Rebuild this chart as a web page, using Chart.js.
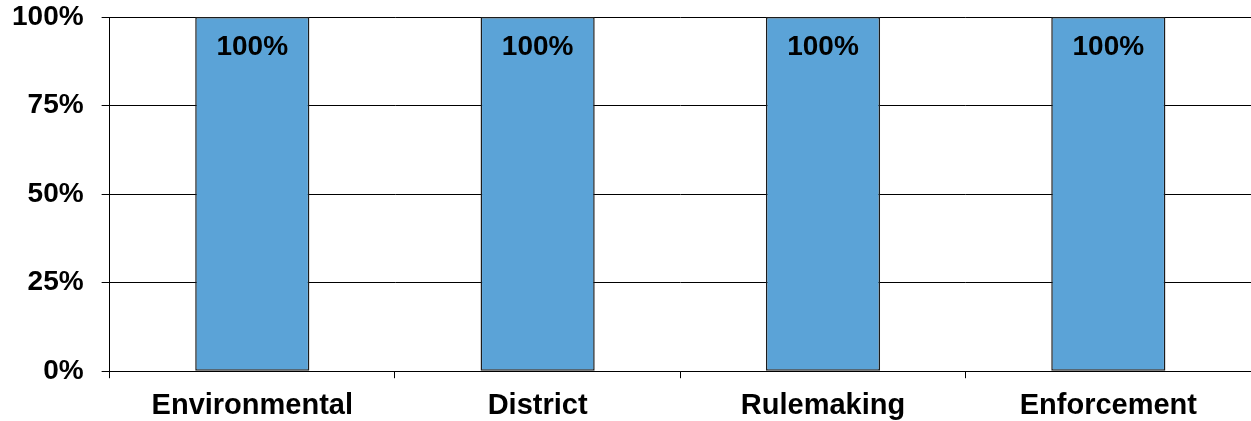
<!DOCTYPE html>
<html>
<head>
<meta charset="utf-8">
<script src="https://cdn.jsdelivr.net/npm/chart.js@4"></script>
<style>
  html, body { margin: 0; padding: 0; background: #fff; }
  #wrap { width: 1251px; height: 421px; }
</style>
</head>
<body>
<div id="wrap"><canvas id="myChart"></canvas></div>
<script>
const categories = ['Environmental', 'District', 'Rulemaking', 'Enforcement'];
const shares = [100, 100, 100, 100];
const yTicks = [0, 25, 50, 75, 100];

// draws the value labels near the top inside each bar
const barLabels = {
  id: 'barLabels',
  afterDatasetsDraw(chart) {
    const ctx = chart.ctx;
    const meta = chart.getDatasetMeta(0);
    ctx.save();
    ctx.font = 'bold 28px "Liberation Sans", Arial, sans-serif';
    ctx.fillStyle = '#000';
    ctx.textAlign = 'center';
    ctx.textBaseline = 'middle';
    meta.data.forEach((bar, i) => {
      ctx.fillText(shares[i] + '%', bar.x, bar.y + 30);
    });
    ctx.restore();
  }
};

Chart.defaults.font.family = '"Liberation Sans", Arial, sans-serif';
Chart.defaults.font.weight = 'bold';
Chart.defaults.color = '#000';

let ctx = document.getElementById('myChart').getContext('2d');
let myChart = new Chart(ctx, {
  type: 'bar',
  data: {
    labels: categories,
    datasets: [{
      data: shares,
      backgroundColor: '#5BA3D7',
      borderColor: '#1c1c1c',
      borderWidth: 1.5,
      borderSkipped: false,
      barPercentage: 0.4,
      categoryPercentage: 1
    }]
  },
  options: {
    responsive: true,
    maintainAspectRatio: false,
    animation: false,
    layout: { padding: { left: -6, right: 0, top: 17, bottom: -12 } },
    plugins: {
      legend: { display: false },
      tooltip: { enabled: false }
    },
    scales: {
      x: {
        grid: {
          display: true,
          drawOnChartArea: false,
          color: '#000',
          tickLength: 7,
          offset: true
        },
        border: { display: true, color: '#000', width: 1 },
        ticks: {
          font: { size: 29, weight: 'bold' },
          padding: 10
        }
      },
      y: {
        min: 0,
        max: 100,
        afterBuildTicks(axis) {
          axis.ticks = yTicks.map(v => ({ value: v }));
        },
        afterFit(axis) {
          axis.paddingTop = 0;
        },
        grid: {
          color: '#000',
          lineWidth: 1,
          tickLength: 8
        },
        border: { display: true, color: '#000', width: 1 },
        ticks: {
          font: { size: 28, weight: 'bold' },
          padding: 18,
          callback: function(value) {
            return value + '%';
          }
        }
      }
    }
  },
  plugins: [barLabels]
});
</script>
</body>
</html>
